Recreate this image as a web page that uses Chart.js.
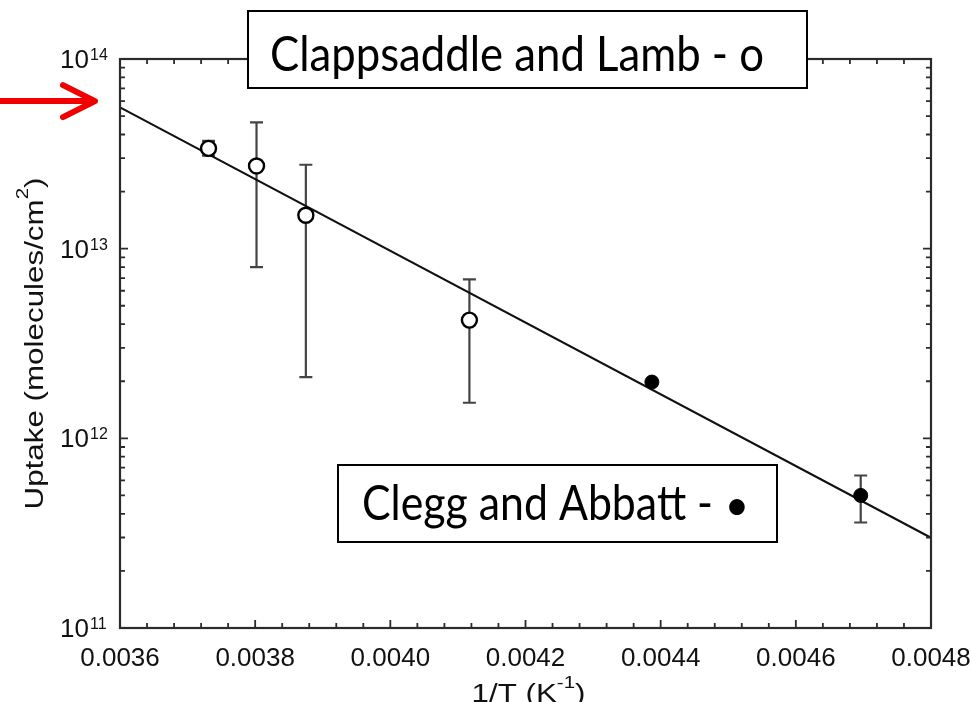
<!DOCTYPE html>
<html>
<head>
<meta charset="utf-8">
<script src="https://cdn.jsdelivr.net/npm/chart.js@4.4.0/dist/chart.umd.min.js"></script>
<style>
html,body{margin:0;padding:0;background:#fff;overflow:hidden}
#wrap{position:relative;width:971px;height:702px}
</style>
</head>
<body>
<div id="wrap"><canvas id="c" width="971" height="702"></canvas></div>
<script>
// ---- Data ----
const openX        = [0.003731, 0.003802, 0.003875, 0.004117];
const openY        = [3.38e13, 2.73e13, 1.50e13, 4.20e12];
const openErrLow   = [3.09e13, 8.0e12, 2.10e12, 1.54e12];
const openErrHigh  = [3.70e13, 4.63e13, 2.77e13, 6.89e12];

const filledX       = [0.004387, 0.004696];
const filledY       = [1.98e12, 5.0e11];
const filledErrLow  = [null, 3.6e11];
const filledErrHigh = [null, 6.37e11];

const fitX = [0.0036, 0.0048];
const fitY = [5.56e13, 2.99e11];

const xTickValues = [0.0036, 0.0038, 0.0040, 0.0042, 0.0044, 0.0046, 0.0048];
const xTickLabels = ['0.0036', '0.0038', '0.0040', '0.0042', '0.0044', '0.0046', '0.0048'];
const yTickExponents = [11, 12, 13, 14];
const yTickBase = '10';

const xTitleMain = '1/T (K';
const xTitleSup = '-1';
const xTitleEnd = ')';
const yTitleMain = 'Uptake (molecules/cm';
const yTitleSup = '2';
const yTitleEnd = ')';

const legendOpen = 'Clappsaddle and Lamb - o';
const legendFilled = 'Clegg and Abbatt - ';
const legendFilledMark = '\u2022';
const arrowValue = 6.0e13;

const toPts = (xs, ys) => xs.map((x, i) => ({x: x, y: ys[i]}));

// ---- Helpers ----
function drawErrBars(ctx, xs, lows, highs, sx, sy) {
  ctx.save();
  ctx.strokeStyle = '#444';
  ctx.lineWidth = 2.2;
  for (let i = 0; i < xs.length; i++) {
    if (lows[i] == null || highs[i] == null) continue;
    const px = sx.getPixelForValue(xs[i]);
    const y1 = sy.getPixelForValue(highs[i]);
    const y2 = sy.getPixelForValue(lows[i]);
    ctx.beginPath();
    ctx.moveTo(px, y1); ctx.lineTo(px, y2);
    ctx.moveTo(px - 6.5, y1); ctx.lineTo(px + 6.5, y1);
    ctx.moveTo(px - 6.5, y2); ctx.lineTo(px + 6.5, y2);
    ctx.stroke();
  }
  ctx.restore();
}

function drawFitText(ctx, text, font, left, baseline, width) {
  ctx.save();
  ctx.font = font;
  ctx.fillStyle = '#000';
  ctx.textAlign = 'left';
  ctx.textBaseline = 'alphabetic';
  const w = ctx.measureText(text).width;
  const s = width / w;
  ctx.translate(left, baseline);
  ctx.scale(s, 1);
  ctx.fillText(text, 0, 0);
  ctx.restore();
}

function drawSupText(ctx, main, sup, end, mainFont, supFont, supRise, targetLen) {
  ctx.font = mainFont;
  const w1 = ctx.measureText(main).width;
  const w3 = ctx.measureText(end).width;
  ctx.font = supFont;
  const w2 = ctx.measureText(sup).width;
  const total = w1 + w2 + w3;
  const s = targetLen / total;
  ctx.scale(s, 1);
  let x = -total / 2;
  ctx.textAlign = 'left';
  ctx.textBaseline = 'alphabetic';
  ctx.font = mainFont;
  ctx.fillText(main, x, 0);
  x += w1;
  ctx.font = supFont;
  ctx.fillText(sup, x, -supRise);
  x += w2;
  ctx.font = mainFont;
  ctx.fillText(end, x, 0);
}

const decor = {
  id: 'decor',
  beforeDatasetsDraw(chart) {
    const ctx = chart.ctx, sx = chart.scales.x, sy = chart.scales.y;
    drawErrBars(ctx, openX, openErrLow, openErrHigh, sx, sy);
    drawErrBars(ctx, filledX, filledErrLow, filledErrHigh, sx, sy);
  },
  afterDraw(chart) {
    const ctx = chart.ctx, sx = chart.scales.x, sy = chart.scales.y, a = chart.chartArea;
    ctx.save();
    // frame
    ctx.strokeStyle = '#2b2b2b';
    ctx.lineWidth = 2.2;
    ctx.strokeRect(a.left, a.top, a.right - a.left, a.bottom - a.top);

    // x ticks (inward, bottom and top)
    ctx.lineWidth = 1.8;
    const xMin = xTickValues[0];
    const xMinor = (xTickValues[1] - xTickValues[0]) / 5;
    const nx = (xTickValues.length - 1) * 5;
    ctx.beginPath();
    for (let k = 0; k <= nx; k++) {
      const px = sx.getPixelForValue(xMin + k * xMinor);
      const len = (k % 5 === 0) ? 8 : 5;
      ctx.moveTo(px, a.bottom); ctx.lineTo(px, a.bottom - len);
      ctx.moveTo(px, a.top); ctx.lineTo(px, a.top + len);
    }
    // y ticks (log, inward, left and right)
    for (let e = yTickExponents[0]; e < yTickExponents[yTickExponents.length - 1]; e++) {
      for (let m = 1; m <= 9; m++) {
        const py = sy.getPixelForValue(m * Math.pow(10, e));
        const len = (m === 1) ? 8 : 5;
        ctx.moveTo(a.left, py); ctx.lineTo(a.left + len, py);
        ctx.moveTo(a.right, py); ctx.lineTo(a.right - len, py);
      }
    }
    ctx.stroke();

    // x tick labels
    ctx.fillStyle = '#111';
    ctx.font = '26px "Liberation Sans", Arial, sans-serif';
    ctx.textAlign = 'center';
    ctx.textBaseline = 'alphabetic';
    xTickValues.forEach((v, i) => {
      ctx.fillText(xTickLabels[i], sx.getPixelForValue(v), 666);
    });

    // y tick labels with superscript exponents
    yTickExponents.forEach(e => {
      const py = sy.getPixelForValue(Math.pow(10, e));
      ctx.font = '26px "Liberation Sans", Arial, sans-serif';
      ctx.textAlign = 'right';
      ctx.fillText(yTickBase, 89, py + 9);
      ctx.font = '16px "Liberation Sans", Arial, sans-serif';
      ctx.textAlign = 'left';
      ctx.fillText(String(e), 90, py + 1);
    });

    // y title
    ctx.save();
    ctx.translate(43, (a.top + a.bottom) / 2);
    ctx.rotate(-Math.PI / 2);
    drawSupText(ctx, yTitleMain, yTitleSup, yTitleEnd,
      '26px "Liberation Sans", Arial, sans-serif', '17px "Liberation Sans", Arial, sans-serif', 15, 332);
    ctx.restore();

    // x title (partly cut by the bottom edge)
    ctx.save();
    ctx.translate((a.left + a.right) / 2 + 3, 702);
    drawSupText(ctx, xTitleMain, xTitleSup, xTitleEnd,
      '26px "Liberation Sans", Arial, sans-serif', '17px "Liberation Sans", Arial, sans-serif', 14, 114);
    ctx.restore();

    // legend boxes
    ctx.fillStyle = '#fff';
    ctx.strokeStyle = '#000';
    ctx.lineWidth = 2;
    ctx.fillRect(248, 11, 559, 77);
    ctx.strokeRect(248, 11, 559, 77);
    drawFitText(ctx, legendOpen, '49px Lato, "Open Sans", sans-serif', 270, 71, 494);

    ctx.fillStyle = '#fff';
    ctx.fillRect(338, 465, 439, 77);
    ctx.strokeRect(338, 465, 439, 77);
    drawFitText(ctx, legendFilled, '49px Lato, "Open Sans", sans-serif', 362, 520, 362);
    ctx.fillStyle = '#000';
    ctx.font = '42px Lato, "Open Sans", sans-serif';
    ctx.textAlign = 'center';
    ctx.textBaseline = 'alphabetic';
    ctx.fillText(legendFilledMark, 737, 520);

    // red arrow
    const ay = sy.getPixelForValue(arrowValue);
    ctx.strokeStyle = '#f20000';
    ctx.lineWidth = 6;
    ctx.lineCap = 'round';
    ctx.lineJoin = 'round';
    ctx.beginPath();
    ctx.moveTo(-5, ay); ctx.lineTo(92, ay);
    ctx.moveTo(63, ay - 16); ctx.lineTo(95, ay); ctx.lineTo(63, ay + 16);
    ctx.stroke();
    ctx.restore();
  }
};

new Chart(document.getElementById('c'), {
  data: {
    datasets: [
      {
        type: 'scatter',
        label: 'Clappsaddle and Lamb',
        data: toPts(openX, openY),
        pointStyle: 'circle',
        pointRadius: 7.5,
        pointBackgroundColor: '#fff',
        pointBorderColor: '#000',
        pointBorderWidth: 2.4,
        order: 1
      },
      {
        type: 'scatter',
        label: 'Clegg and Abbatt',
        data: toPts(filledX, filledY),
        pointStyle: 'circle',
        pointRadius: 7,
        pointBackgroundColor: '#000',
        pointBorderColor: '#000',
        pointBorderWidth: 1,
        order: 1
      },
      {
        type: 'line',
        label: 'fit',
        data: toPts(fitX, fitY),
        borderColor: '#111',
        borderWidth: 2.2,
        pointRadius: 0,
        fill: false,
        order: 3
      }
    ]
  },
  options: {
    responsive: false,
    animation: false,
    devicePixelRatio: 1,
    layout: { padding: { left: 120, top: 59, right: 40, bottom: 74 } },
    scales: {
      x: { type: 'linear', min: 0.0036, max: 0.0048, display: false },
      y: { type: 'logarithmic', min: 1e11, max: 1e14, display: false }
    },
    plugins: { legend: { display: false }, tooltip: { enabled: false } }
  },
  plugins: [decor]
});
</script>
</body>
</html>
